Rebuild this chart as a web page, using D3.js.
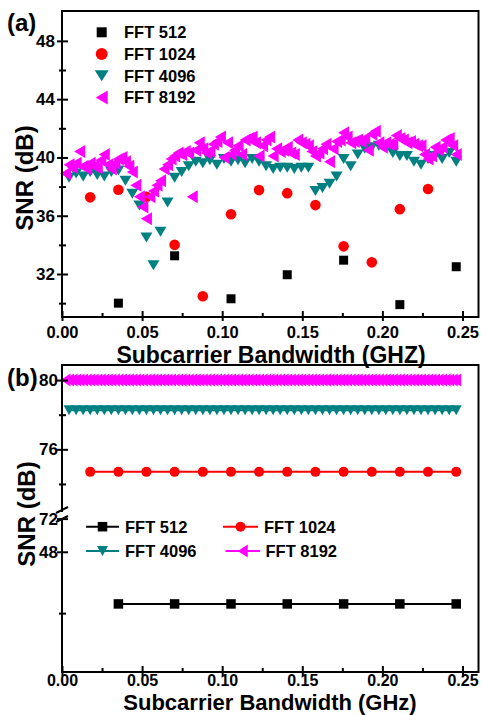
<!DOCTYPE html>
<html>
<head>
  <meta charset="utf-8">
  <script src="https://d3js.org/d3.v7.min.js"></script>
  <style>
    body { margin: 0; background: #fff; }
    text { font-family: "Liberation Sans", Arial, sans-serif; font-weight: bold; fill: #000; }
    .axis path.domain { display: none; }
    .axis line { stroke: #000; stroke-width: 2; }
    .frame { fill: none; stroke: #000; stroke-width: 2; }
  </style>
</head>
<body>
<div id="chart"></div>
<script>
  // subcarrier bandwidth (GHz) for each FFT size
  const x512 = [0.0352, 0.0703, 0.1055, 0.1406, 0.1758, 0.2109, 0.2461];
  const x1024 = [0.0176, 0.0352, 0.0527, 0.0703, 0.0879, 0.1055, 0.1230, 0.1406, 0.1582, 0.1758,
    0.1934, 0.2109, 0.2285, 0.2461];
  const x4096 = [0.0044, 0.0088, 0.0132, 0.0176, 0.0220, 0.0264, 0.0308, 0.0352, 0.0396, 0.0439,
    0.0483, 0.0527, 0.0571, 0.0615, 0.0659, 0.0703, 0.0747, 0.0791, 0.0835, 0.0879,
    0.0923, 0.0967, 0.1011, 0.1055, 0.1099, 0.1143, 0.1187, 0.1230, 0.1274, 0.1318,
    0.1362, 0.1406, 0.1450, 0.1494, 0.1538, 0.1582, 0.1626, 0.1670, 0.1714, 0.1758,
    0.1802, 0.1846, 0.1890, 0.1934, 0.1978, 0.2021, 0.2065, 0.2109, 0.2153, 0.2197,
    0.2241, 0.2285, 0.2329, 0.2373, 0.2417, 0.2461];
  const x8192 = [0.0022, 0.0044, 0.0066, 0.0088, 0.0110, 0.0132, 0.0154, 0.0176, 0.0198, 0.0220,
    0.0242, 0.0264, 0.0286, 0.0308, 0.0330, 0.0352, 0.0374, 0.0396, 0.0417, 0.0439,
    0.0461, 0.0483, 0.0505, 0.0527, 0.0549, 0.0571, 0.0593, 0.0615, 0.0637, 0.0659,
    0.0681, 0.0703, 0.0725, 0.0747, 0.0769, 0.0791, 0.0813, 0.0835, 0.0857, 0.0879,
    0.0901, 0.0923, 0.0945, 0.0967, 0.0989, 0.1011, 0.1033, 0.1055, 0.1077, 0.1099,
    0.1121, 0.1143, 0.1165, 0.1187, 0.1208, 0.1230, 0.1252, 0.1274, 0.1296, 0.1318,
    0.1340, 0.1362, 0.1384, 0.1406, 0.1428, 0.1450, 0.1472, 0.1494, 0.1516, 0.1538,
    0.1560, 0.1582, 0.1604, 0.1626, 0.1648, 0.1670, 0.1692, 0.1714, 0.1736, 0.1758,
    0.1780, 0.1802, 0.1824, 0.1846, 0.1868, 0.1890, 0.1912, 0.1934, 0.1956, 0.1978,
    0.2000, 0.2021, 0.2043, 0.2065, 0.2087, 0.2109, 0.2131, 0.2153, 0.2175, 0.2197,
    0.2219, 0.2241, 0.2263, 0.2285, 0.2307, 0.2329, 0.2351, 0.2373, 0.2395, 0.2417,
    0.2439, 0.2461];

  // panel (a) SNR (dB)
  const snrA512 = [30.0, 33.25, 30.3, 31.95, 32.95, 29.9, 32.5];
  const snrA1024 = [37.26, 37.78, 37.3, 34.0, 30.47, 36.1, 37.76, 37.55, 36.73, 33.9,
    32.8, 36.45, 37.83];
  const snrA4096 = [38.6, 38.9, 38.7, 39.0, 38.8, 38.7, 39.0, 39.1, 38.4, 37.5,
    36.7, 34.5, 32.6, 34.9, 36.9, 38.6, 39.0, 39.4, 39.7, 39.6,
    39.8, 39.5, 39.9, 39.7, 39.8, 39.6, 39.9, 39.7, 39.4, 39.2,
    39.3, 39.3, 39.2, 39.3, 39.3, 37.7, 37.9, 38.2, 38.7, 39.9,
    39.4, 40.2, 40.6, 40.7, 40.8, 40.7, 40.3, 40.1, 40.1, 39.7,
    39.5, 39.9, 40.1, 39.9, 40.3, 39.7];
  const snrA8192 = [38.9, 39.5, 39.3, 39.6, 40.4, 39.4, 39.2, 39.6, 39.4, 39.3,
    39.8, 40.2, 39.5, 39.2, 39.6, 39.9, 40.0, 39.7, 39.4, 39.0,
    38.1, 37.3, 36.6, 35.8, 37.3, 37.7, 38.1, 38.4, 39.2, 39.5,
    39.9, 40.1, 40.3, 40.2, 40.4, 40.3, 37.3, 40.5, 41.0, 40.6,
    40.3, 40.4, 40.9, 41.1, 41.4, 40.0, 41.0, 40.2, 40.5, 40.8,
    40.2, 41.2, 41.3, 41.4, 41.0, 40.1, 40.8, 41.2, 41.4, 40.1,
    40.6, 40.4, 40.5, 40.7, 40.3, 40.2, 41.2, 41.0, 40.9, 40.8,
    40.4, 40.1, 40.3, 40.6, 40.9, 39.7, 40.6, 41.1, 41.2, 41.7,
    41.4, 41.0, 41.1, 41.2, 41.1, 41.3, 40.5, 41.6, 41.8, 41.0,
    40.7, 41.0, 40.9, 40.9, 41.5, 41.3, 41.2, 41.0, 41.1, 40.9,
    40.8, 40.8, 40.2, 39.9, 40.1, 40.7, 40.5, 40.7, 41.2, 41.3,
    40.8, 40.2];

  // panel (b) SNR (dB), flat over bandwidth
  const snrB512 = 46.3;
  const snrB1024 = 74.7;
  const snrB4096 = 78.26;
  const snrB8192 = 80.0;

  const names = ["FFT 512", "FFT 1024", "FFT 4096", "FFT 8192"];
  const colors = ["#000000", "#ff0000", "#008080", "#ff00ff"];
  const shapes = ["square", "circle", "down", "left"];

  const xMajor = [0, 0.05, 0.10, 0.15, 0.20, 0.25];
  const xMinor = [0.025, 0.075, 0.125, 0.175, 0.225];
  const yMajorA = [32, 36, 40, 44, 48];
  const yMinorA = [30, 34, 38, 42, 46];
  const yMajorBUp = [72, 76, 80];
  const yMinorBUp = [74, 78];
  const yMajorBLow = [48];
  const yMinorBLow = [46];

  const W = 482, H = 715;
  const svg = d3.select("#chart").append("svg")
    .attr("width", W).attr("height", H);
  svg.append("rect").attr("width", W).attr("height", H).attr("fill", "#fff");

  const x = d3.scaleLinear().domain([0, 0.26]).range([62, 478.5]);
  const yA = d3.scaleLinear().domain([29.05, 50.05]).range([317, 11]);
  const yBUp = d3.scaleLinear().domain([72, 80.87]).range([518.6, 365]);
  const yBLow = d3.scaleLinear().domain([44.08, 49.2]).range([672, 515]);
  const yB = v => v > 60 ? yBUp(v) : yBLow(v);

  function shapePath(type, s) {
    if (type === "square") {
      const a = s.a / 2;
      return `M${-a},${-a}H${a}V${a}H${-a}Z`;
    }
    if (type === "down") {
      return `M${-s.w / 2},${-s.h / 2}L${s.w / 2},${-s.h / 2}L0,${s.h / 2}Z`;
    }
    if (type === "left") {
      return `M${-s.w / 2},0L${s.w / 2},${-s.h / 2}L${s.w / 2},${s.h / 2}Z`;
    }
    // circle
    return d3.arc()({innerRadius: 0, outerRadius: s.r, startAngle: 0, endAngle: 2 * Math.PI});
  }
  const sizeA = {square: {a: 9}, circle: {r: 5.3}, down: {w: 12, h: 10}, left: {w: 11, h: 13}};
  const sizeLegA = {square: {a: 10}, circle: {r: 6}, down: {w: 14, h: 11}, left: {w: 12, h: 14}};
  const sizeB = {square: {a: 9.5}, circle: {r: 5}, down: {w: 11, h: 10}, left: {w: 10, h: 13}};

  function drawMarkers(g, xs, ys, i, sizes) {
    g.append("g").selectAll("path")
      .data(ys.map((v, j) => [xs[j], v]))
      .join("path")
      .attr("transform", d => `translate(${x(d[0])},${d[1]})`)
      .attr("d", shapePath(shapes[i], sizes[shapes[i]]))
      .attr("fill", colors[i]);
  }

  function xAxis(g, bottom, gap, fontSize) {
    // x axis, ticks both sides
    g.append("g").attr("class", "axis").attr("transform", `translate(0,${bottom})`)
      .call(d3.axisBottom(x).tickValues(xMajor).tickSize(4).tickPadding(gap)
        .tickFormat(d3.format(".2f")))
      .selectAll("text").style("font-size", fontSize);
    g.append("g").attr("class", "axis").attr("transform", `translate(0,${bottom})`)
      .call(d3.axisBottom(x).tickValues(xMajor).tickSize(-6).tickFormat(""));
    g.append("g").attr("class", "axis").attr("transform", `translate(0,${bottom})`)
      .call(d3.axisBottom(x).tickValues(xMinor).tickSize(-4).tickFormat(""));
  }

  function yAxis(g, yScale, major, minor, pad) {
    const a = g.append("g").attr("class", "axis").attr("transform", "translate(62,0)")
      .call(d3.axisLeft(yScale).tickValues(major).tickSize(5).tickPadding(pad)
        .tickFormat(d3.format("d")));
    a.selectAll("text").style("font-size", "17px");
    g.append("g").attr("class", "axis").attr("transform", "translate(62,0)")
      .call(d3.axisLeft(yScale).tickValues(major).tickSize(-6).tickFormat(""));
    g.append("g").attr("class", "axis").attr("transform", "translate(62,0)")
      .call(d3.axisLeft(yScale).tickValues(minor).tickSize(3).tickFormat(""));
    g.append("g").attr("class", "axis").attr("transform", "translate(62,0)")
      .call(d3.axisLeft(yScale).tickValues(minor).tickSize(-4).tickFormat(""));
  }

  // ---------- panel (a) ----------
  const gA = svg.append("g");
  const xsA = [x512, x1024, x4096, x8192];
  const ysA = [snrA512, snrA1024, snrA4096, snrA8192];
  xsA.forEach((xs, i) => drawMarkers(gA, xs, ysA[i].map(yA), i, sizeA));

  gA.append("rect").attr("class", "frame").attr("x", 62).attr("y", 11)
    .attr("width", 416.5).attr("height", 306);
  xAxis(gA, 317, 5, "16.5px");
  yAxis(gA, yA, yMajorA, yMinorA, 2);

  const legA = gA.append("g");
  names.forEach((n, i) => {
    const ly = 32.3 + i * 21.7;
    legA.append("path").attr("transform", `translate(101.7,${ly})`)
      .attr("d", shapePath(shapes[i], sizeLegA[shapes[i]])).attr("fill", colors[i]);
    legA.append("text").attr("x", 124).attr("y", ly).attr("dy", "0.36em")
      .style("font-size", "16.5px").text(n);
  });

  gA.append("text").attr("x", 7).attr("y", 31).style("font-size", "24px").text("(a)");
  gA.append("text").attr("transform", "translate(33,178) rotate(-90)")
    .attr("text-anchor", "middle").style("font-size", "24px").text("SNR (dB)");
  gA.append("text").attr("x", 271).attr("y", 363).attr("text-anchor", "middle")
    .style("font-size", "23px").text("Subcarrier Bandwidth (GHZ)");

  // ---------- panel (b) ----------
  const gB = svg.append("g");
  const flatB = [snrB512, snrB1024, snrB4096, snrB8192];
  const lineB = d3.line().x(d => x(d[0])).y(d => yB(d[1]));
  xsA.forEach((xs, i) => {
    gB.append("path").datum(xs.map(d => [d, flatB[i]]))
      .attr("d", lineB).attr("fill", "none").attr("stroke", colors[i]).attr("stroke-width", 2);
    drawMarkers(gB, xs, xs.map(() => yB(flatB[i])), i, sizeB);
  });

  gB.append("rect").attr("class", "frame").attr("x", 62).attr("y", 365)
    .attr("width", 416.5).attr("height", 307);
  xAxis(gB, 672, -1, "16px");
  yAxis(gB, yBUp, yMajorBUp, yMinorBUp, -1);
  yAxis(gB, yBLow, yMajorBLow, yMinorBLow, -1);

  // axis break
  gB.append("rect").attr("x", 58).attr("y", 512).attr("width", 9).attr("height", 6).attr("fill", "#fff");
  gB.append("path").attr("d", "M56,513L68,507M56,522L68,516")
    .attr("stroke", "#000").attr("stroke-width", 2).attr("fill", "none");

  const legB = [[86, 119, 125, 526.7], [223, 258, 264, 526.7], [86, 119, 125, 551], [225.5, 260, 265.5, 551]];
  names.forEach((n, i) => {
    const [x0, x1, tx, ly] = legB[i];
    gB.append("line").attr("x1", x0).attr("x2", x1).attr("y1", ly).attr("y2", ly)
      .attr("stroke", colors[i]).attr("stroke-width", 2);
    gB.append("path").attr("transform", `translate(${(x0 + x1) / 2},${ly})`)
      .attr("d", shapePath(shapes[i], sizeB[shapes[i]])).attr("fill", colors[i]);
    gB.append("text").attr("x", tx).attr("y", ly).attr("dy", "0.36em")
      .style("font-size", "16.5px").text(n);
  });

  gB.append("text").attr("x", 7).attr("y", 386).style("font-size", "24px").text("(b)");
  gB.append("text").attr("transform", "translate(35,514) rotate(-90)")
    .attr("text-anchor", "middle").style("font-size", "24px").text("SNR (dB)");
  gB.append("text").attr("x", 270).attr("y", 710).attr("text-anchor", "middle")
    .style("font-size", "22px").text("Subcarrier Bandwidth (GHz)");
</script>
</body>
</html>
